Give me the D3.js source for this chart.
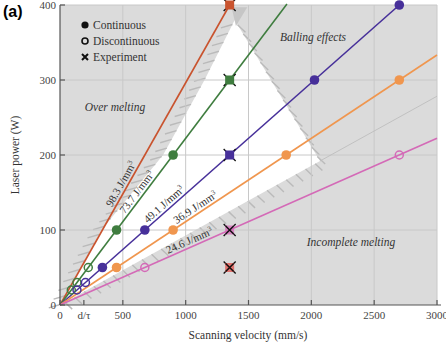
<!DOCTYPE html>
<html>
<head>
<meta charset="utf-8">
<script src="https://cdn.jsdelivr.net/npm/d3@7"></script>
<style>
  body { margin: 0; background: #fff; }
  svg { display: block; }
</style>
</head>
<body>
<script>
// Data
const xTicks = [0, 500, 1000, 1500, 2000, 2500, 3000];
const yTicks = [0, 100, 200, 300, 400];
const dTau = 190;

// energy density lines: P = slope * v
const energyLabels = ['98.3', '73.7', '49.1', '36.9', '24.6'];
const energySlopes = [400 / 1350, 300 / 1350, 200 / 1350, 150 / 1350, 100 / 1350];
const lineEnds = [1350, 1806, 2700, 3000, 3000];
const labelAt = [530, 653, 862, 1106, 1050];

// [velocity, power, series]
const continuous = [
    [450, 100, 1], [900, 200, 1],
    [337.5, 50, 2], [675, 100, 2], [2025, 300, 2], [2700, 400, 2],
    [450, 50, 3], [900, 100, 3], [1800, 200, 3], [2700, 300, 3]
];
const discontinuous = [
    [90, 20, 1], [135, 30, 1], [225, 50, 1],
    [135, 20, 2], [202.5, 30, 2],
    [675, 50, 4], [2700, 200, 4]
];
const experiment = [
    [1350, 400, 0], [1350, 300, 1], [1350, 200, 2], [1350, 100, 4], [1350, 50, 5]
];

// process window boundary (velocity, power)
const windowLeft = [[0, 0], [330, 100], [820, 200], [1150, 300], [1390, 380]];
const windowRight = [[1390, 380], [2069, 192]];
const windowLower = [[2069, 192], [0, 0]];

const regionLabels = ['Over melting', 'Balling effects', 'Incomplete melting'];
const legendLabels = ['Continuous', 'Discontinuous', 'Experiment'];

// Constants
const width = 446;
const height = 349;
const colors = ['#c9532e', '#3f7d3f', '#47309a', '#f0964e', '#d46ab7', '#e0504a'];
const serif = '"Liberation Serif", "DejaVu Serif", serif';
const grey = '#555';

const svg = d3.select('body')
    .append('svg')
    .attr('width', width)
    .attr('height', height);

const x = d3.scaleLinear().domain([0, 3000]).range([60, 437]);
const y = d3.scaleLinear().domain([0, 400]).range([305, 5]);

// Plot background
svg.append('rect')
    .attr('x', x(0)).attr('y', y(400))
    .attr('width', x(3000) - x(0)).attr('height', y(0) - y(400))
    .attr('fill', '#dbdbdb');

// Process window
const windowPts = windowLeft.concat(windowRight.slice(1), windowLower.slice(1));
svg.append('path')
    .attr('d', d3.line().x(d => x(d[0])).y(d => y(d[1]))(windowPts) + 'Z')
    .attr('fill', '#fff');

// small shadow above the window tip
svg.append('path')
    .attr('d', d3.line().x(d => x(d[0])).y(d => y(d[1]))([[1365, 397], [1490, 397], [1400, 372]]) + 'Z')
    .attr('fill', '#c6c6c6');

// Hatching along the boundary
function hatch(points, dir, len, step) {
    const g = svg.append('g').attr('stroke', '#bababa').attr('stroke-width', 1.4);
    let carry = step / 2;
    for (let i = 0; i < points.length - 1; i++) {
        const x0 = x(points[i][0]), y0 = y(points[i][1]);
        const x1 = x(points[i + 1][0]), y1 = y(points[i + 1][1]);
        const segLen = Math.hypot(x1 - x0, y1 - y0);
        let t = carry;
        while (t < segLen) {
            const px = x0 + (x1 - x0) * t / segLen;
            const py = y0 + (y1 - y0) * t / segLen;
            g.append('line')
                .attr('x1', px).attr('y1', py)
                .attr('x2', px + dir[0] * len).attr('y2', py + dir[1] * len);
            t += step;
        }
        carry = t - segLen;
    }
}
hatch(windowLeft.slice().reverse(), [-0.96, 0.28], 12, 10);
hatch(windowRight, [0.72, 0.69], 11, 11);
hatch(windowLower, [0.72, 0.69], 10, 11);

// Grid
const grid = svg.append('g').attr('stroke', '#c8c8c8').attr('stroke-width', 1);
grid.selectAll('line.v')
    .data(xTicks.slice(1))
    .join('line')
    .attr('x1', d => x(d)).attr('x2', d => x(d))
    .attr('y1', y(0)).attr('y2', y(400));
grid.selectAll('line.h')
    .data(yTicks.slice(1))
    .join('line')
    .attr('x1', x(0)).attr('x2', x(3000))
    .attr('y1', d => y(d)).attr('y2', d => y(d));

// faint continuation of the lower limit
const lowSlope = windowLower[0][1] / windowLower[0][0];
svg.append('line')
    .attr('x1', x(windowLower[0][0])).attr('y1', y(windowLower[0][1]))
    .attr('x2', x(3000)).attr('y2', y(lowSlope * 3000))
    .attr('stroke', '#bdbdbd').attr('stroke-width', 0.9);

// Energy lines
svg.append('g')
    .selectAll('line')
    .data(energySlopes)
    .join('line')
    .attr('x1', x(0)).attr('y1', y(0))
    .attr('x2', (d, i) => x(lineEnds[i]))
    .attr('y2', (d, i) => y(d * lineEnds[i]))
    .attr('stroke', (d, i) => colors[i])
    .attr('stroke-width', 1.6);

// Line labels
energySlopes.forEach((s, i) => {
    const v = labelAt[i];
    const px = x(v), py = y(s * v);
    const ang = Math.atan2(y(s * 1000) - y(0), x(1000) - x(0)) * 180 / Math.PI;
    const t = svg.append('text')
        .attr('transform', `translate(${px},${py}) rotate(${ang}) translate(0,-3)`)
        .attr('text-anchor', 'middle')
        .attr('font-family', serif)
        .attr('font-size', 11)
        .attr('fill', '#333');
    t.append('tspan').text(energyLabels[i] + ' J/mm');
    t.append('tspan').attr('font-size', 7).attr('dy', -4).text('3');
});

// Continuous points
svg.append('g')
    .selectAll('circle')
    .data(continuous)
    .join('circle')
    .attr('cx', d => x(d[0])).attr('cy', d => y(d[1]))
    .attr('r', 4.8)
    .attr('fill', d => colors[d[2]]);

// Discontinuous points
svg.append('g')
    .selectAll('circle')
    .data(discontinuous)
    .join('circle')
    .attr('cx', d => x(d[0])).attr('cy', d => y(d[1]))
    .attr('r', 4)
    .attr('fill', 'none')
    .attr('stroke', d => colors[d[2]])
    .attr('stroke-width', 1.5);

// Experiment points
const exp = svg.append('g')
    .selectAll('g')
    .data(experiment)
    .join('g')
    .attr('transform', d => `translate(${x(d[0])},${y(d[1])})`);
exp.append('path')
    .attr('d', 'M-6,-6L6,6M-6,6L6,-6')
    .attr('stroke', '#111').attr('stroke-width', 1.3);
exp.append('rect')
    .attr('x', -4.5).attr('y', -4.5).attr('width', 9).attr('height', 9)
    .attr('fill', d => colors[d[2]])
    .attr('opacity', d => d[1] <= 100 ? 0.75 : 1);
exp.filter(d => d[1] <= 100).append('path')
    .attr('d', 'M-4,-4L4,4M-4,4L4,-4')
    .attr('stroke', '#111').attr('stroke-width', 1.3);

// Region labels
const regionPos = [[115, 111], [313, 41], [351, 246]];
svg.append('g')
    .selectAll('text')
    .data(regionLabels)
    .join('text')
    .attr('x', (d, i) => regionPos[i][0]).attr('y', (d, i) => regionPos[i][1])
    .attr('text-anchor', 'middle')
    .attr('font-family', serif)
    .attr('font-style', 'italic')
    .attr('font-size', 11.5)
    .attr('fill', '#333')
    .text(d => d);

// Axes
const axes = svg.append('g').attr('stroke', grey).attr('stroke-width', 1.2);
axes.append('line').attr('x1', x(0)).attr('x2', x(0)).attr('y1', y(0)).attr('y2', y(400));
axes.append('line').attr('x1', x(0)).attr('x2', 441).attr('y1', y(0)).attr('y2', y(0));
axes.selectAll('line.yt')
    .data(yTicks)
    .join('line')
    .attr('x1', x(0)).attr('x2', x(0) + 5)
    .attr('y1', d => y(d)).attr('y2', d => y(d));
axes.selectAll('line.xt')
    .data(xTicks.concat([dTau]))
    .join('line')
    .attr('x1', d => x(d)).attr('x2', d => x(d))
    .attr('y1', y(0)).attr('y2', y(0) - 5);

svg.append('g')
    .selectAll('text')
    .data(yTicks)
    .join('text')
    .attr('x', x(0) - 4).attr('y', d => y(d) + 4)
    .attr('text-anchor', 'end')
    .attr('font-family', serif).attr('font-size', 11)
    .attr('fill', '#444')
    .text(d => d);

const xLabels = xTicks.map(d => [d, String(d)]);
xLabels.splice(1, 0, [dTau, 'd/τ']);
svg.append('g')
    .selectAll('text')
    .data(xLabels)
    .join('text')
    .attr('x', d => x(d[0])).attr('y', y(0) + 14)
    .attr('text-anchor', 'middle')
    .attr('font-family', serif).attr('font-size', 11)
    .attr('fill', '#444')
    .text(d => d[1]);

svg.append('text')
    .attr('x', 248).attr('y', 339)
    .attr('text-anchor', 'middle')
    .attr('font-family', serif).attr('font-size', 11.5)
    .attr('fill', '#333')
    .text('Scanning velocity (mm/s)');

svg.append('text')
    .attr('transform', 'translate(19,155) rotate(-90)')
    .attr('text-anchor', 'middle')
    .attr('font-family', serif).attr('font-size', 11.5)
    .attr('fill', '#333')
    .text('Laser power (W)');

svg.append('text')
    .attr('x', 3).attr('y', 17)
    .attr('font-family', '"Liberation Sans", Arial, sans-serif')
    .attr('font-weight', 'bold').attr('font-size', 16)
    .text('(a)');

// Legend
const legend = svg.append('g').attr('transform', 'translate(85,25)');
legend.selectAll('text')
    .data(legendLabels)
    .join('text')
    .attr('x', 8).attr('y', (d, i) => i * 16 + 4)
    .attr('font-family', serif).attr('font-size', 11.5)
    .attr('fill', '#333')
    .text(d => d);
legend.append('circle').attr('r', 3.6).attr('fill', '#111');
legend.append('circle').attr('cy', 16).attr('r', 3).attr('fill', 'none')
    .attr('stroke', '#111').attr('stroke-width', 1.6);
legend.append('path').attr('d', 'M-3,29L3,35M-3,35L3,29')
    .attr('stroke', '#111').attr('stroke-width', 2);
</script>
</body>
</html>
